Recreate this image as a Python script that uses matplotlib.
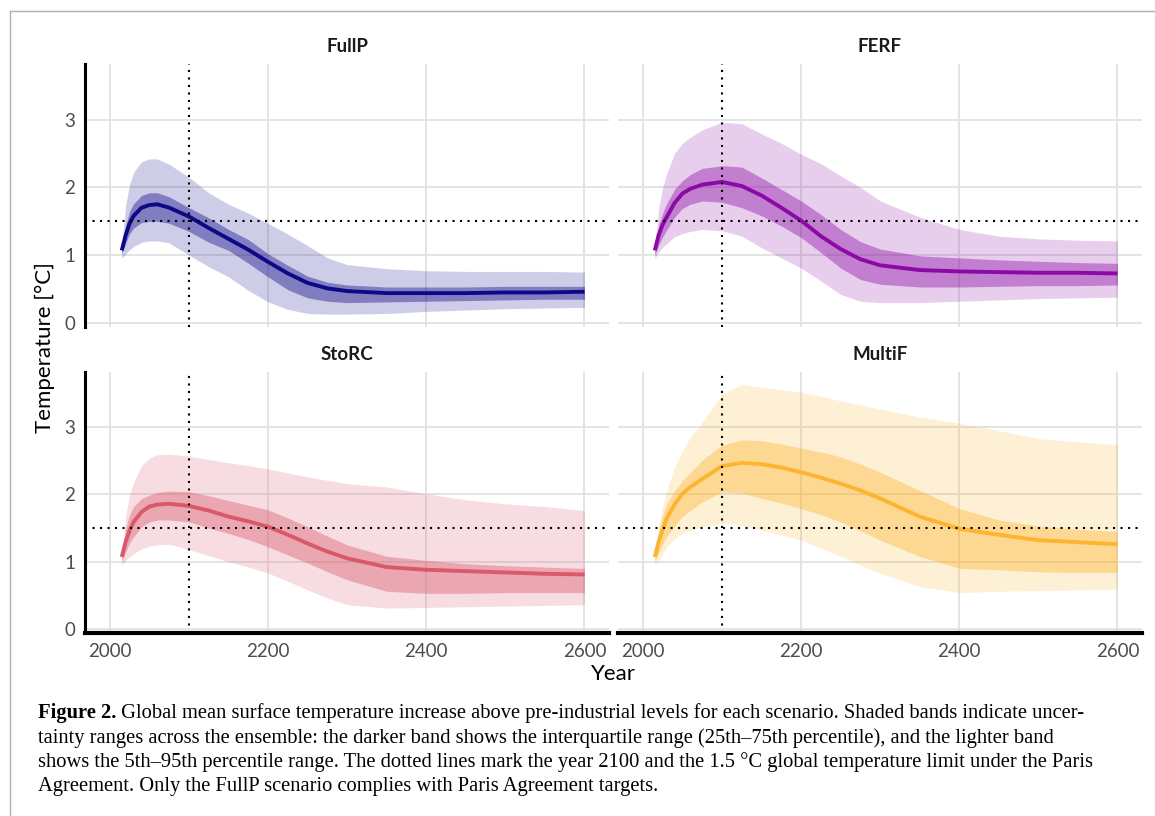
import matplotlib.pyplot as plt
from matplotlib.lines import Line2D
import numpy as np

years = [2015, 2020, 2025, 2030, 2040, 2050, 2060, 2075, 2100, 2125, 2150, 2175,
         2200, 2225, 2250, 2275, 2300, 2350, 2400, 2450, 2500, 2550, 2600]

scenarios = ['FullP', 'FERF', 'StoRC', 'MultiF']
colors = ['#0d0887', '#8b0aa5', '#d9586b', '#fdb42f']

# FullP
fullp_med = [1.07, 1.30, 1.47, 1.58, 1.70, 1.74, 1.75, 1.70, 1.57, 1.40, 1.24, 1.08,
             0.90, 0.73, 0.59, 0.51, 0.47, 0.44, 0.44, 0.44, 0.45, 0.45, 0.46]
fullp_q75 = [1.10, 1.45, 1.65, 1.76, 1.88, 1.92, 1.92, 1.86, 1.70, 1.55, 1.38, 1.23,
             1.02, 0.85, 0.69, 0.60, 0.56, 0.53, 0.53, 0.53, 0.54, 0.54, 0.54]
fullp_q25 = [1.02, 1.18, 1.32, 1.40, 1.48, 1.50, 1.50, 1.47, 1.35, 1.19, 1.07, 0.88,
             0.68, 0.49, 0.37, 0.32, 0.30, 0.31, 0.32, 0.33, 0.34, 0.35, 0.35]
fullp_q95 = [1.10, 1.75, 2.05, 2.22, 2.38, 2.42, 2.42, 2.34, 2.15, 1.92, 1.75, 1.62,
             1.47, 1.31, 1.14, 0.96, 0.86, 0.80, 0.77, 0.76, 0.76, 0.76, 0.75]
fullp_q05 = [0.95, 1.02, 1.08, 1.13, 1.19, 1.21, 1.21, 1.18, 1.00, 0.83, 0.68, 0.48,
             0.31, 0.20, 0.14, 0.13, 0.13, 0.14, 0.17, 0.19, 0.21, 0.22, 0.23]

# FERF
ferf_med = [1.07, 1.30, 1.45, 1.56, 1.77, 1.91, 1.98, 2.04, 2.08, 2.02, 1.88, 1.70,
            1.51, 1.28, 1.09, 0.94, 0.85, 0.78, 0.76, 0.75, 0.74, 0.74, 0.73]
ferf_q75 = [1.10, 1.45, 1.62, 1.76, 1.97, 2.10, 2.19, 2.28, 2.32, 2.30, 2.14, 1.97,
            1.80, 1.60, 1.38, 1.20, 1.09, 0.99, 0.96, 0.93, 0.91, 0.89, 0.88]
ferf_q25 = [1.00, 1.15, 1.27, 1.37, 1.56, 1.69, 1.75, 1.80, 1.78, 1.70, 1.58, 1.43,
            1.26, 1.04, 0.81, 0.64, 0.57, 0.53, 0.53, 0.54, 0.55, 0.55, 0.56]
ferf_q95 = [1.10, 1.70, 2.00, 2.20, 2.50, 2.65, 2.74, 2.85, 2.96, 2.94, 2.79, 2.65,
            2.49, 2.35, 2.17, 2.00, 1.80, 1.56, 1.38, 1.28, 1.24, 1.22, 1.21]
ferf_q05 = [0.95, 1.05, 1.12, 1.17, 1.27, 1.32, 1.35, 1.38, 1.36, 1.28, 1.11, 0.96,
            0.81, 0.62, 0.42, 0.32, 0.30, 0.30, 0.32, 0.34, 0.36, 0.37, 0.38]

# StoRC
storc_med = [1.07, 1.30, 1.47, 1.59, 1.74, 1.82, 1.85, 1.86, 1.83, 1.76, 1.67, 1.60,
             1.52, 1.40, 1.27, 1.15, 1.05, 0.92, 0.88, 0.86, 0.84, 0.82, 0.81]
storc_q75 = [1.10, 1.50, 1.70, 1.82, 1.94, 1.99, 2.03, 2.05, 2.04, 1.98, 1.91, 1.84,
             1.77, 1.65, 1.52, 1.38, 1.25, 1.08, 1.02, 0.97, 0.94, 0.92, 0.90]
storc_q25 = [1.00, 1.15, 1.28, 1.37, 1.52, 1.59, 1.62, 1.62, 1.59, 1.50, 1.42, 1.33,
             1.22, 1.10, 0.98, 0.85, 0.73, 0.56, 0.53, 0.53, 0.54, 0.54, 0.54]
storc_q95 = [1.10, 1.70, 2.00, 2.18, 2.43, 2.54, 2.59, 2.60, 2.57, 2.52, 2.47, 2.43,
             2.38, 2.32, 2.26, 2.21, 2.16, 2.11, 2.01, 1.92, 1.86, 1.82, 1.76]
storc_q05 = [0.95, 1.02, 1.08, 1.12, 1.19, 1.23, 1.25, 1.26, 1.18, 1.09, 1.00, 0.92,
             0.83, 0.71, 0.58, 0.46, 0.36, 0.31, 0.32, 0.33, 0.34, 0.35, 0.36]

# MultiF
multif_med = [1.07, 1.30, 1.48, 1.64, 1.85, 2.01, 2.11, 2.23, 2.42, 2.47, 2.45, 2.40,
              2.33, 2.25, 2.16, 2.06, 1.94, 1.67, 1.49, 1.40, 1.32, 1.29, 1.26]
multif_q75 = [1.10, 1.45, 1.68, 1.86, 2.05, 2.21, 2.33, 2.51, 2.73, 2.81, 2.80, 2.75,
              2.69, 2.63, 2.56, 2.45, 2.33, 2.06, 1.79, 1.62, 1.53, 1.48, 1.45]
multif_q25 = [1.00, 1.13, 1.26, 1.37, 1.53, 1.67, 1.76, 1.89, 2.04, 2.02, 1.94, 1.87,
              1.79, 1.70, 1.59, 1.46, 1.32, 1.08, 0.90, 0.88, 0.85, 0.84, 0.84]
multif_q95 = [1.10, 1.55, 1.82, 2.05, 2.41, 2.65, 2.85, 3.07, 3.49, 3.64, 3.59, 3.56,
              3.52, 3.46, 3.39, 3.33, 3.27, 3.15, 3.06, 2.95, 2.83, 2.78, 2.74]
multif_q05 = [0.95, 1.02, 1.10, 1.22, 1.34, 1.42, 1.47, 1.52, 1.57, 1.54, 1.47, 1.40,
              1.32, 1.20, 1.08, 0.95, 0.83, 0.63, 0.54, 0.56, 0.57, 0.58, 0.59]

data = {
    'FullP': (fullp_med, fullp_q25, fullp_q75, fullp_q05, fullp_q95),
    'FERF': (ferf_med, ferf_q25, ferf_q75, ferf_q05, ferf_q95),
    'StoRC': (storc_med, storc_q25, storc_q75, storc_q05, storc_q95),
    'MultiF': (multif_med, multif_q25, multif_q75, multif_q05, multif_q95),
}

xticks = [2000, 2200, 2400, 2600]
yticks = [0, 1, 2, 3]

W, H = 1155, 816
fig = plt.figure(figsize=(W / 100, H / 100), dpi=100)
fig.patch.set_facecolor('white')

# panel boxes in pixels: left, top, right, bottom
boxes = [(85, 64, 609, 327), (618, 64, 1142, 327),
         (85, 372, 609, 633), (618, 372, 1142, 633)]

yr = np.array(years)
for k, name in enumerate(scenarios):
    l, t, r, b = boxes[k]
    ax = fig.add_axes([l / W, (H - b) / H, (r - l) / W, (b - t) / H])
    med, q25, q75, q05, q95 = [np.array(v) for v in data[name]]
    c = colors[k]
    ax.fill_between(yr, q05, q95, color=c, alpha=0.2, lw=0, zorder=2)
    ax.fill_between(yr, q25, q75, color=c, alpha=0.4, lw=0, zorder=3)
    ax.plot(yr, med, color=c, lw=2.8, zorder=4, solid_capstyle='butt')
    ax.axhline(1.5, color='black', lw=1.5, ls=(0, (1, 2.6)), zorder=5)
    ax.axvline(2100, color='black', lw=1.5, ls=(0, (1, 2.6)), zorder=5)

    ax.set_xlim(1968.5, 2631)
    ax.set_ylim(-0.06, 3.82)
    ax.set_xticks(xticks)
    ax.set_yticks(yticks)
    ax.grid(True, color='#e2e2e2', lw=1.3, zorder=0)
    ax.set_axisbelow(True)
    for s in ax.spines.values():
        s.set_visible(False)
    ax.tick_params(length=0, labelsize=13.5, labelcolor='#4d4d4d', pad=7)
    for lab in ax.get_xticklabels() + ax.get_yticklabels():
        lab.set_family('Lato')
    if k % 2 == 0:
        ax.spines['left'].set_visible(True)
        ax.spines['left'].set_linewidth(2.2)
        ax.spines['left'].set_color('black')
    else:
        ax.set_yticklabels([])
    if k >= 2:
        ax.spines['bottom'].set_visible(True)
        ax.spines['bottom'].set_linewidth(3)
        ax.spines['bottom'].set_color('black')
    else:
        ax.set_xticklabels([])
    ax.set_title(name, family='Lato', fontweight='bold', fontsize=13.5,
                 color='#1a1a1a', pad=9)

fig.text(45 / W, 1 - 348 / H, 'Temperature [°C]', rotation=90, ha='center', va='center',
         family='Lato', fontsize=16, color='black')
fig.text(613 / W, 1 - 674 / H, 'Year', ha='center', va='center',
         family='Lato', fontsize=16, color='black')

# caption
cap = [
    ('Figure 2.', ' Global mean surface temperature increase above pre-industrial levels for each scenario. Shaded bands indicate uncer-'),
    ('', 'tainty ranges across the ensemble: the darker band shows the interquartile range (25th\u201375th percentile), and the lighter band'),
    ('', 'shows the 5th\u201395th percentile range. The dotted lines mark the year 2100 and the 1.5 \u00b0C global temperature limit under the Paris'),
    ('', 'Agreement. Only the FullP scenario complies with Paris Agreement targets.'),
]
cap_y = [713, 738, 762, 786]
renderer = fig.canvas.get_renderer()
for (bold, rest), yy in zip(cap, cap_y):
    x0 = 38 / W
    if bold:
        tb = fig.text(x0, 1 - yy / H, bold, ha='left', va='center', family='Liberation Serif',
                      fontweight='bold', fontsize=14.8)
        ext = tb.get_window_extent(renderer)
        x0 = ext.x1 / W
    fig.text(x0, 1 - yy / H, rest, ha='left', va='center', family='Liberation Serif',
             fontsize=14.8)

# frame of the figure box
fig.add_artist(Line2D([10 / W, 1], [1 - 11 / H, 1 - 11 / H], color='#b0b0b0', lw=1))
fig.add_artist(Line2D([10 / W, 10 / W], [0, 1 - 11 / H], color='#b0b0b0', lw=1))

fig.savefig('out.png', dpi=100)
